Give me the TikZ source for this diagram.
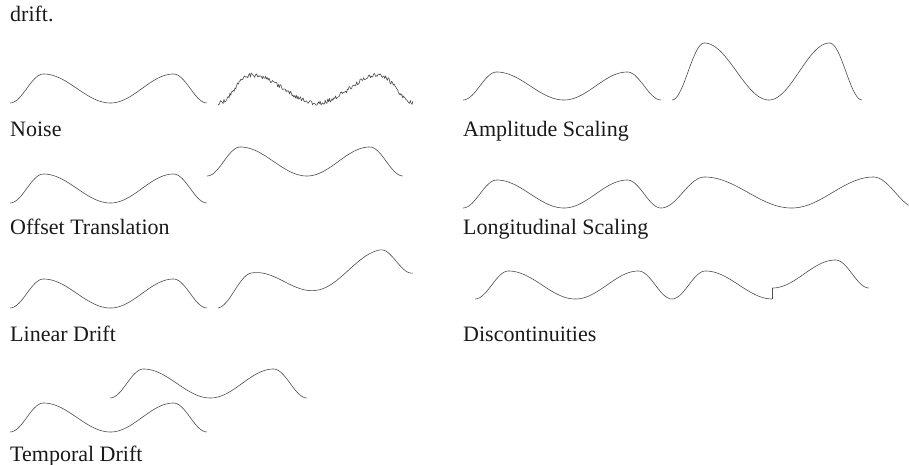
\documentclass[tikz,border=0pt]{standalone}
\usepackage{fontspec}
\setmainfont{Liberation Serif}
\begin{document}
\begin{tikzpicture}[x=1pt,y=-1pt,
  declare function={hc(\u)=(1-cos(180*\u))/2;
    wv(\t)=(\t<0.17)?hc(\t/0.17):((\t<0.51)?1-hc((\t-0.17)/0.34):((\t<0.83)?hc((\t-0.51)/0.32):1-hc((\t-0.83)/0.17)));},
  wave/.style={line width=0.6pt,draw=black!70,line join=round},
  lbl/.style={anchor=base west,inner sep=0pt,font=\fontsize{22}{26}\selectfont,text=black!90}]
\useasboundingbox (0,0) rectangle (909,464);
\newcommand\wavecurve[4]{\draw[wave] plot[domain=0:1,samples=120,smooth] ({#1+#3*\x},{#2-#4*wv(\x)});}
% caption fragment
\node[lbl] (drift) at (10,21) {drift.};
% Noise
\wavecurve{10}{103}{197}{29}
\pgfmathsetseed{12}
\draw[wave] plot[domain=0:1,samples=230] ({218+195*\x},{103-28*wv(\x)+2.2*rand});
\node[lbl] (noise) at (10,136) {Noise};
% Amplitude scaling
\wavecurve{463}{100}{198}{28}
\wavecurve{672}{100}{190}{57}
\node[lbl] (amp) at (463,136) {Amplitude Scaling};
% Offset translation
\wavecurve{10}{203}{197}{29}
\wavecurve{207}{176}{196}{29}
\node[lbl] (off) at (10,234) {Offset Translation};
% Longitudinal scaling
\wavecurve{463}{208}{198}{28}
\draw[wave] plot[domain=0:0.968,samples=140,smooth] ({661+256*\x},{208-31*wv(\x)});
\node[lbl] (lon) at (463,234) {Longitudinal Scaling};
% Linear drift
\wavecurve{10}{308}{197}{29}
\draw[wave] plot[domain=0:1,samples=120,smooth] ({218+195*\x},{308-29*wv(\x)-35*\x});
\node[lbl] (lin) at (10,341) {Linear Drift};
% Discontinuities
\wavecurve{475}{299}{197}{28}
\draw[wave] plot[domain=0:0.51,samples=70,smooth] ({672+197*\x},{299-28*wv(\x)});
\coordinate (j1) at (672+197*0.51,299);
\coordinate (j2) at (672+197*0.51,288);
\draw[wave] (j1) -- (j2);
\draw[wave] plot[domain=0.51:1,samples=70,smooth] ({672+197*\x},{288-28*wv(\x)});
\node[lbl] (disc) at (463,341) {Discontinuities};
% Temporal drift
\wavecurve{110}{398}{197}{29}
\wavecurve{10}{432}{197}{29}
\node[lbl] (temp) at (10,461) {Temporal Drift};
\end{tikzpicture}
\end{document}
